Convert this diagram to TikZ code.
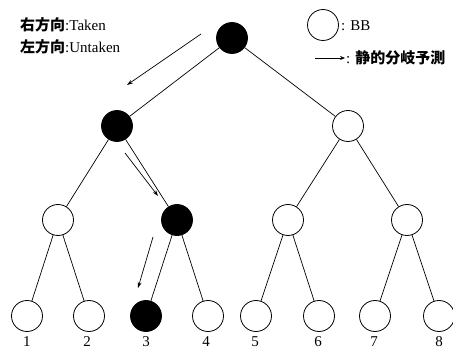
\documentclass[tikz,border=0pt]{standalone}
\usepackage{fontspec}
\setmainfont{Liberation Serif}
\newfontfamily\cjk{Noto Sans CJK JP}
\usetikzlibrary{arrows.meta}
\begin{document}
\begin{tikzpicture}[x=1pt,y=-1pt,
  bb/.style={circle,draw,line width=0.8pt,minimum size=31pt,inner sep=0pt},
  hit/.style={bb,fill=black},
  edge/.style={line width=0.7pt},
  pred/.style={line width=0.7pt,-{Stealth[length=6pt,width=4pt]}},
  lbl/.style={font=\fontsize{15}{17}\selectfont,inner sep=0pt}]
\useasboundingbox (0,0) rectangle (453,350);
% tree nodes
\node[hit] (r) at (232,38) {};
\node[hit] (a) at (117,126) {};
\node[bb] (b) at (348,126) {};
\node[bb] (aa) at (58,220) {};
\node[hit] (ab) at (177,220) {};
\node[bb] (ba) at (288,220) {};
\node[bb] (bb) at (407,220) {};
\node[bb] (l1) at (27,316) {};
\node[bb] (l2) at (89,316) {};
\node[hit] (l3) at (146,316) {};
\node[bb] (l4) at (208,316) {};
\node[bb] (l5) at (256,316) {};
\node[bb] (l6) at (319,316) {};
\node[bb] (l7) at (375,316) {};
\node[bb] (l8) at (439,316) {};
% edges
\draw[edge] (r) -- (a);
\draw[edge] (r) -- (b);
\draw[edge] (a) -- (aa);
\draw[edge] (a) -- (ab);
\draw[edge] (b) -- (ba);
\draw[edge] (b) -- (bb);
\draw[edge] (aa) -- (l1);
\draw[edge] (aa) -- (l2);
\draw[edge] (ab) -- (l3);
\draw[edge] (ab) -- (l4);
\draw[edge] (ba) -- (l5);
\draw[edge] (ba) -- (l6);
\draw[edge] (bb) -- (l7);
\draw[edge] (bb) -- (l8);
% leaf numbers
\foreach \i/\x in {1/27,2/87,3/146,4/206,5/255,6/318,7/374,8/439}
  \node[lbl,anchor=base] (n\i) at (\x,346) {\i};
% prediction arrows
\coordinate (p1s) at (201,34); \coordinate (p1e) at (127,85);
\coordinate (p2s) at (125,153); \coordinate (p2e) at (158,196);
\coordinate (p3s) at (153,237); \coordinate (p3e) at (138,288);
\draw[pred] (p1s) -- (p1e);
\draw[pred] (p2s) -- (p2e);
\draw[pred] (p3s) -- (p3e);
% text
\node[lbl,anchor=west] (t1) at (20,25) {{\cjk\bfseries 右方向}:Taken};
\node[lbl,anchor=west] (t2) at (20,47) {{\cjk\bfseries 左方向}:Untaken};
% legend
\node[bb] (lg) at (323,25) {};
\node[lbl,anchor=west] (lgt) at (341,26) {: BB};
\coordinate (la) at (315,58); \coordinate (lb) at (345,58);
\draw[pred,-{Stealth[length=5pt,width=4pt]}] (la) -- (lb);
\node[lbl,anchor=west] (lat) at (346,58) {: {\cjk\bfseries 静的分岐予測}};
\end{tikzpicture}
\end{document}
